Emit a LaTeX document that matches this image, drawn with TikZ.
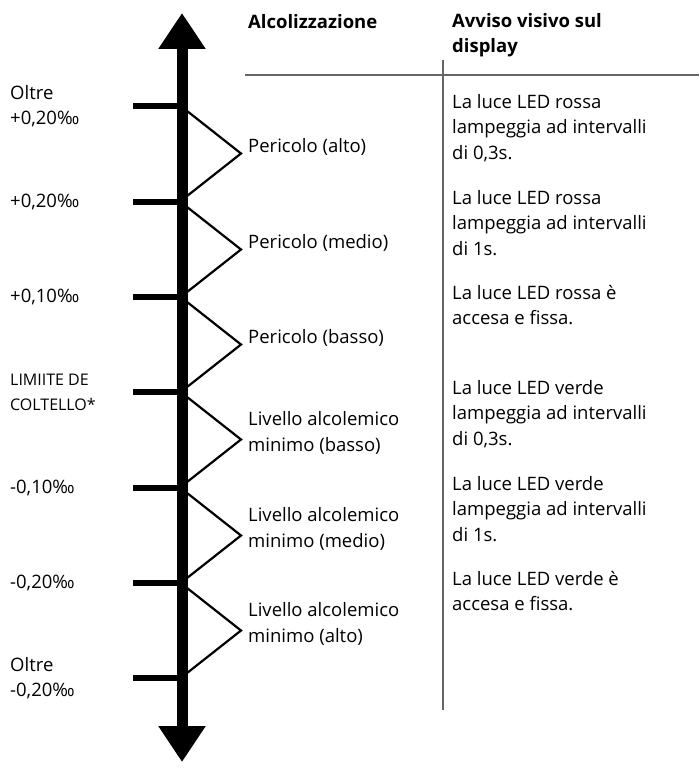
\documentclass[tikz,border=0pt]{standalone}
\usepackage{fontspec}
\setmainfont{Open Sans}
\usetikzlibrary{arrows.meta}

\begin{document}
\begin{tikzpicture}[x=1pt,y=-1pt,
    txt/.style={anchor=west,align=left,inner sep=0pt,
      font=\fontsize{18.5}{25.5}\selectfont},
    head/.style={txt,font=\fontsize{18.5}{25.5}\selectfont\bfseries},
    small/.style={txt,font=\fontsize{16}{25}\selectfont},
    tick/.style={line width=6pt},
    wedge/.style={line width=2.2pt,line join=miter}]
  \def\XAX{182}
  \def\XTICK{133}
  \def\XTIP{241}
  \def\XLEFT{10}
  \def\XMID{248}
  \def\XRIGHT{452}

  \useasboundingbox (0,0) rectangle (699,773);

  % axis
  \draw [line width=11pt,-{Triangle[width=45pt,length=36pt]}]
    (\XAX,720) coordinate (AXB) -- (\XAX,13) coordinate (AXT);
  \draw [line width=11pt,-{Triangle[width=45pt,length=36pt]}]
    (\XAX,100) -- (\XAX,762);

  % table rules
  \draw [line width=1.5pt,gray!80!black] (245,75) -- (699,75);
  \draw [line width=1.2pt,gray!80!black] (443,60) -- (443,710);

  \node [head] (h1) at (\XMID,22) {Alcolizzazione};
  \node [head] (h2) at (\XRIGHT,35) {Avviso visivo sul\\display};

  % ticks and left labels
  \foreach \y/\lab/\sty [count=\i] in {106/{Oltre\\+0,20‰}/txt, 202/{+0,20‰}/txt,
      297/{+0,10‰}/txt, 392/{LIMIITE DE\\COLTELLO*}/small, 488/{-0,10‰}/txt,
      583/{-0,20‰}/txt, 678/{Oltre\\-0,20‰}/txt} {
    \draw [tick] (\XTICK,\y) -- (\XAX,\y);
    \node [\sty] (l\i) at (\XLEFT,\y) {\lab};
  }

  % wedges, levels and signals
  \foreach \y/\lev/\sig [count=\i] in {
      106/{Pericolo (alto)}/{La luce LED rossa\\lampeggia ad intervalli\\di 0,3s.},
      202/{Pericolo (medio)}/{La luce LED rossa\\lampeggia ad intervalli\\di 1s.},
      297/{Pericolo (basso)}/{La luce LED rossa è\\accesa e fissa.},
      392/{Livello alcolemico\\minimo (basso)}/{La luce LED verde\\lampeggia ad intervalli\\di 0,3s.},
      488/{Livello alcolemico\\minimo (medio)}/{La luce LED verde\\lampeggia ad intervalli\\di 1s.},
      583/{Livello alcolemico\\minimo (alto)}/{La luce LED verde è\\accesa e fissa.}} {
    \draw [wedge] (\XAX,\y+1) -- (\XTIP,{\y+47.5}) -- (\XAX,\y+94);
    \node [txt] (v\i) at (\XMID,{\y+41}) {\lev};
    \node [txt,anchor=north west] (s\i) at (\XRIGHT,\y-12) {\sig};
  }
\end{tikzpicture}
\end{document}
